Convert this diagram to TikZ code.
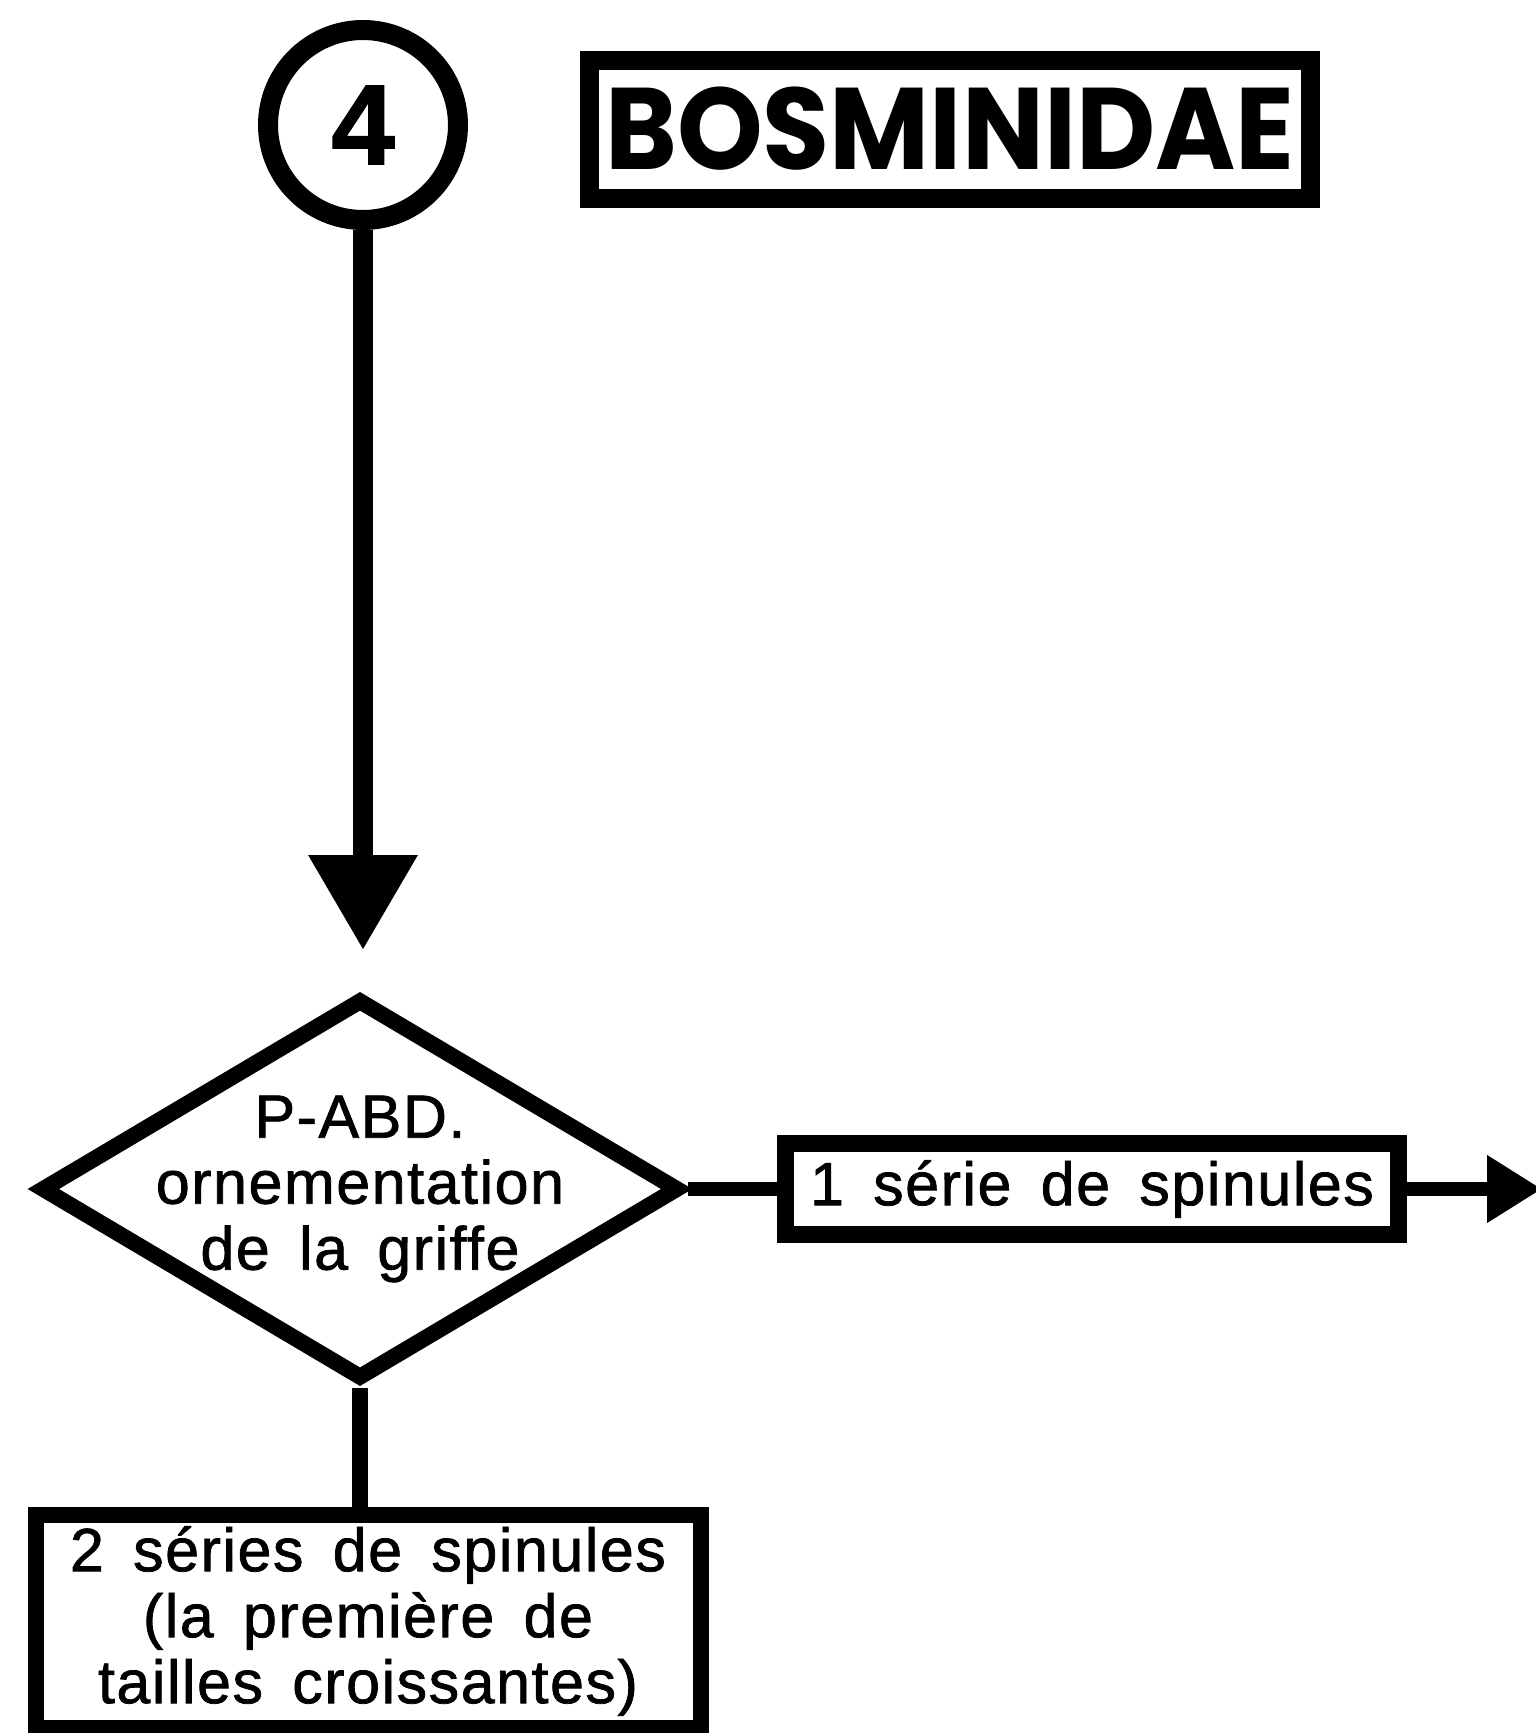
\documentclass[tikz,border=0pt]{standalone}
\usepackage{fontspec}
\setmainfont{Liberation Sans}[LetterSpace=2.5,FakeBold=1.2]
\newfontfamily\titlefont{Poppins}
\usetikzlibrary{shapes.geometric,arrows.meta}
\newcommand\espaciado{\spaceskip=0.48em\relax}

\begin{document}
\begin{tikzpicture}[x=1pt,y=-1pt,
    texto/.style={font=\fontsize{61}{66}\selectfont\espaciado, align=center, inner sep=0pt},
    caja/.style={texto, draw, line width=17pt},
    flecha/.style={line width=20pt, -{Triangle[length=95pt,width=104pt]}},
    salida/.style={line width=14pt, -{Triangle[length=55pt,width=64pt]}}]

    % Marco de la figura
    \path[fill=white] (0,0) rectangle (1535,1733);
    \useasboundingbox (0,0) rectangle (1535,1733);

    % Numero y titulo
    \node[draw, circle, line width=20pt, minimum size=190pt, inner sep=0pt,
          font=\fontsize{114}{120}\selectfont\bfseries] (c4) at (363,125) {4};
    \node[draw, line width=19pt, minimum width=721pt, minimum height=138pt, inner sep=0pt,
          font=\titlefont\bfseries\fontsize{116}{120}\selectfont] (titulo) at (950,129)
        {\scalebox{0.94}[1]{BOSMINIDAE}};

    % Rombo de la pregunta
    \node[diamond, draw, line width=16pt, minimum width=640pt, minimum height=382pt,
          inner sep=0pt] (ptab) at (360,1189) {};
    \node[texto] (ptabtxt) at (ptab) {P-ABD.\\ornementation\\de la griffe};

    % Respuestas
    \node[caja, minimum width=613pt, minimum height=91pt] (sp1) at (1092,1189) {1 série de spinules};
    \node[caja, line width=16pt, minimum width=665pt, minimum height=213pt] (sp2) at (368,1621)
        {2 séries de spinules\\(la première de\\tailles croissantes)};
    \coordinate (fin) at (1542,1190);

    % Conexiones
    \draw[flecha, shorten >=40pt] (c4) -- (c4 |- ptab.north);
    \draw[line width=14pt] (ptab.east) -- (sp1.west);
    \draw[line width=16pt] (ptab.south) -- (ptab.south |- sp2.north);
    \draw[salida] (sp1.east) -- (sp1.east -| fin);
\end{tikzpicture}
\end{document}
